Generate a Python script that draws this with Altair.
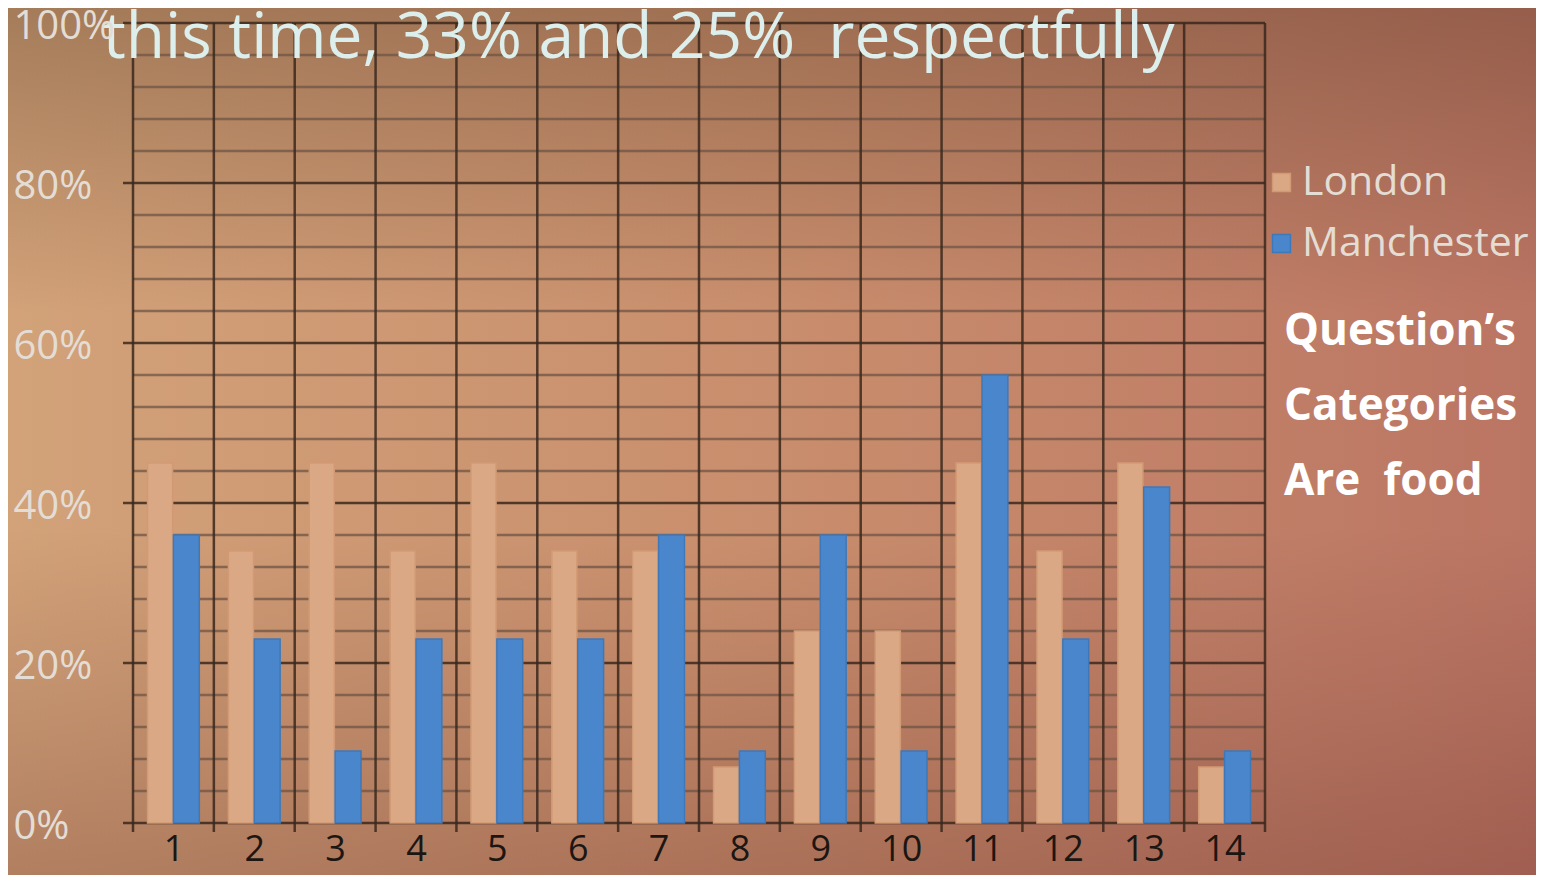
import altair as alt
import pandas as pd

categories = list(range(1, 15))
london = [45, 34, 45, 34, 45, 34, 34, 7, 24, 24, 45, 34, 45, 7]
manchester = [36, 23, 9, 23, 23, 23, 36, 9, 36, 9, 56, 23, 42, 9]
series = ["London", "Manchester"]
y_ticks = [0, 20, 40, 60, 80, 100]
title_text = "this time, 33% and 25%\u00a0 respectfully"
side_lines = ["Question\u2019s", "Categories", "Are\u00a0 food"]

W, H = 1132, 800
PL, PT, PR, PB = 125, 15, 271, 52

rows = []
for c, l, m in zip(categories, london, manchester):
    rows.append({"cat": c, "city": "London", "value": l})
    rows.append({"cat": c, "city": "Manchester", "value": m})
df = pd.DataFrame(rows)

xscale = alt.Scale(domain=[0.5, 14.5], nice=False, zero=False)
yscale = alt.Scale(domain=[0, 100], nice=False)

x_axis = alt.Axis(values=categories, format="d", grid=False, ticks=False, tickSize=0,
                  domain=False, labelFontSize=36, labelColor="#1c1612",
                  labelFont="Open Sans", labelPadding=9, zindex=1, title=None)
y_axis = alt.Axis(values=y_ticks, labelExpr="datum.value + '%'", grid=False,
                  ticks=False, tickSize=0, domain=False, labelAlign="left",
                  labelPadding=120, labelFontSize=40, labelColor="#e4ddd5",
                  labelFont="Open Sans", labelOffset=3, zindex=1, title=None)

# background gradients
bg_h = alt.Chart(pd.DataFrame({"a": [0]})).mark_rect(
    color=alt.Gradient(
        gradient="linear", x1=0, y1=0, x2=1, y2=0,
        stops=[alt.GradientStop(color="#d2a279", offset=0),
               alt.GradientStop(color="#c98e6d", offset=0.5),
               alt.GradientStop(color="#bb7563", offset=1)])
).encode(x=alt.value(-PL), x2=alt.value(W + PR), y=alt.value(-PT), y2=alt.value(H + PB))

bg_v = alt.Chart(pd.DataFrame({"a": [0]})).mark_rect(
    color=alt.Gradient(
        gradient="linear", x1=0, y1=0, x2=0, y2=1,
        stops=[alt.GradientStop(color="rgba(70,45,25,0.32)", offset=0),
               alt.GradientStop(color="rgba(70,45,25,0.0)", offset=0.35),
               alt.GradientStop(color="rgba(80,30,30,0.0)", offset=0.6),
               alt.GradientStop(color="rgba(80,25,25,0.25)", offset=1)])
).encode(x=alt.value(-PL), x2=alt.value(W + PR), y=alt.value(-PT), y2=alt.value(H + PB))

minor_vals = [v for v in range(0, 101, 4) if v % 20 != 0]
minor = alt.Chart(pd.DataFrame({"v": minor_vals})).mark_rule(
    color="#6e5444", strokeWidth=2.5, opacity=0.75
).encode(y=alt.Y("v:Q", scale=yscale, axis=y_axis), x=alt.value(0), x2=alt.value(W))

major = alt.Chart(pd.DataFrame({"v": y_ticks})).mark_rule(
    color="#3a281c", strokeWidth=2.5, opacity=0.85
).encode(y=alt.Y("v:Q", scale=yscale, axis=y_axis), x=alt.value(-10), x2=alt.value(W))

bounds = [c - 0.5 for c in categories] + [categories[-1] + 0.5]
vert = alt.Chart(pd.DataFrame({"b": bounds})).mark_rule(
    color="#3a281c", strokeWidth=2.5, opacity=0.85
).encode(x=alt.X("b:Q", scale=xscale, axis=x_axis), y=alt.value(0), y2=alt.value(H + 9))

bars = alt.Chart(df).transform_calculate(
    x0="datum.city == 'London' ? datum.cat - 0.32 : datum.cat + 0.0",
    x1="datum.city == 'London' ? datum.cat - 0.01 : datum.cat + 0.32",
).mark_rect(strokeWidth=1.5).encode(
    x=alt.X("x0:Q", scale=xscale, axis=x_axis),
    x2="x1:Q",
    y=alt.Y("value:Q", scale=yscale, axis=y_axis),
    y2=alt.datum(0),
    color=alt.Color("city:N", scale=alt.Scale(domain=series, range=["#dba886", "#4a86cb"]),
                    legend=alt.Legend(title=None, orient="none", legendX=1128, legendY=139,
                                      symbolType="square", symbolSize=320,
                                      symbolStrokeColor="#5a3a28", symbolStrokeWidth=1.5,
                                      labelFontSize=41, labelColor="#e4ddd5", labelLimit=500,
                                      labelFont="Open Sans", labelOffset=0, rowPadding=19)),
    stroke=alt.Stroke("city:N", scale=alt.Scale(domain=series, range=["#d29a74", "#3f78b8"]),
                      legend=None),
)

title = alt.Chart(pd.DataFrame({"t": [title_text]})).mark_text(
    align="left", baseline="alphabetic", font="Open Sans", fontSize=64, color="#dcefed"
).encode(text="t:N", x=alt.value(-30), y=alt.value(35))

side = alt.Chart(pd.DataFrame({"t": ["\n".join(side_lines)]})).mark_text(
    align="left", baseline="alphabetic", font="Open Sans", fontSize=44, fontWeight="bold",
    color="#ffffff", lineBreak="\n", lineHeight=75
).encode(text="t:N", x=alt.value(W + 19), y=alt.value(322))

chart = alt.layer(bg_h, bg_v, minor, major, vert, bars, title, side).properties(
    width=W, height=H,
    autosize=alt.AutoSizeParams(type="none"),
    padding={"left": PL, "top": PT, "right": PR, "bottom": PB},
).configure_view(stroke=None).configure(background="#c48a6c")

chart.save("out.html", embed_options={"renderer": "svg", "actions": False})
